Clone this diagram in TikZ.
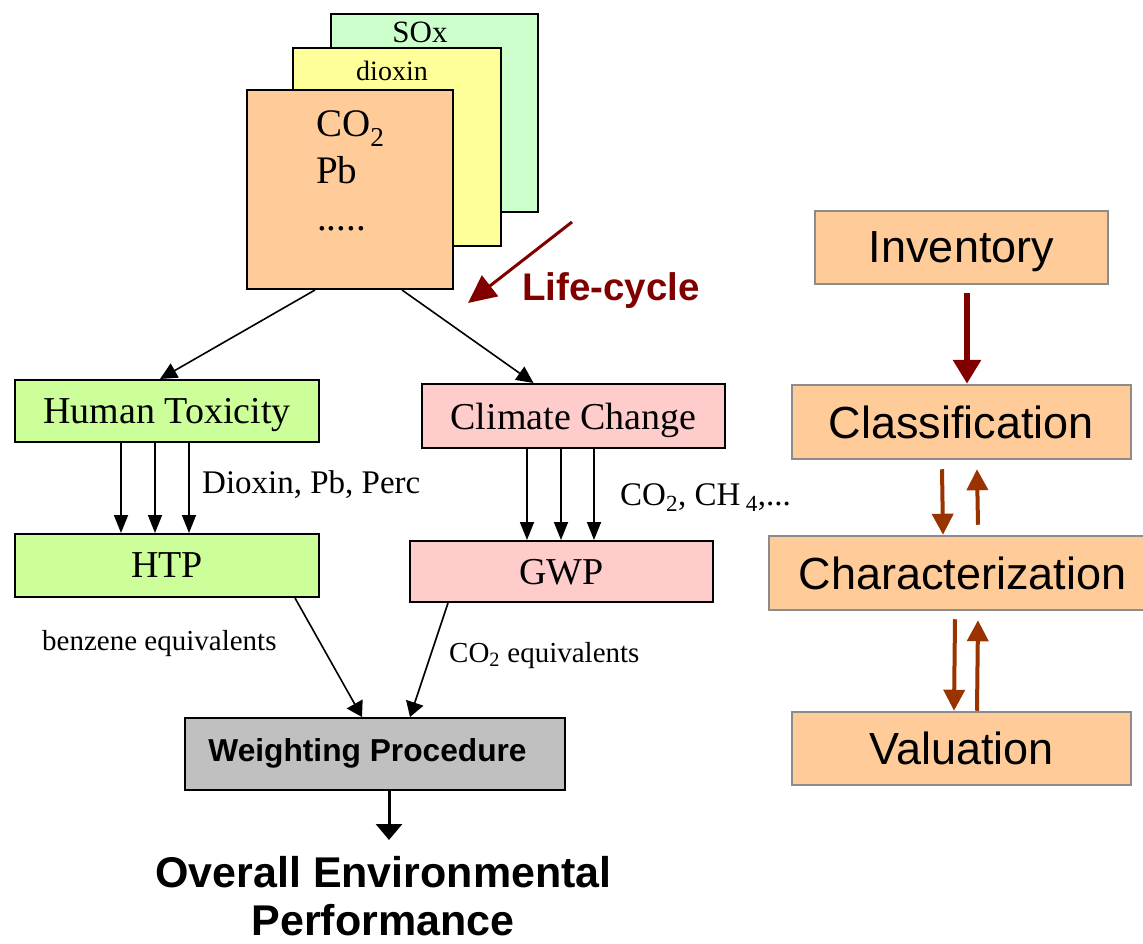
\documentclass[tikz,border=0pt]{standalone}
\usepackage{fontspec}
\setmainfont{Liberation Serif}
\setsansfont{Liberation Sans}
\usetikzlibrary{arrows.meta}
\definecolor{peach}{HTML}{FFCC99}
\definecolor{lyellow}{HTML}{FFFF99}
\definecolor{lgreen}{HTML}{CCFFCC}
\definecolor{lime}{HTML}{CCFF99}
\definecolor{lpink}{HTML}{FFCCCC}
\definecolor{wgray}{HTML}{C0C0C0}
\definecolor{dred}{HTML}{800000}
\definecolor{rbrown}{HTML}{993300}
\definecolor{rborder}{HTML}{8C8C8C}
\newcommand{\fsz}[1]{\fontsize{#1}{#1}\selectfont}
\begin{document}
\begin{tikzpicture}[x=1pt,y=-1pt,
  box/.style={draw=black, line width=2pt, inner sep=0pt, text depth=0pt},
  txt/.style={inner sep=0pt},
  rbox/.style={draw=rborder, line width=2.5pt, fill=peach, inner sep=0pt, text depth=0pt, font=\sffamily\fsz{45}},
  arr/.style={line width=1.8pt, -{Triangle[length=18pt,width=14pt]}},
  darr/.style={line width=1.6pt, -{Triangle[length=17pt,width=16pt]}},
  warr/.style={line width=1.6pt, -{Triangle[length=15pt,width=18pt]}},
  brarr/.style={rbrown, line width=4pt, -{Triangle[length=21pt,width=21pt]}},
]
\clip (0,0) rectangle (1143,944);
\fill[white] (0,0) rectangle (1143,944);

% stacked inventory sheets
\node[box, fill=lgreen, minimum width=207pt, minimum height=198pt] (sox) at (434.5,113) {};
\node[txt, anchor=base, font=\fsz{31}] (soxt) at (420,43) {SOx};
\node[box, fill=lyellow, minimum width=208pt, minimum height=198pt] (dio) at (397,147) {};
\node[txt, anchor=base, font=\fsz{28}] (diot) at (392,81) {dioxin};
\node[box, fill=peach, minimum width=206pt, minimum height=199pt] (front) at (350,189.5) {};
\node[txt, anchor=base west, font=\fsz{39}] (co2) at (316,137) {CO\textsubscript{2}};
\node[txt, anchor=base west, font=\fsz{39}] (pb) at (316,184) {Pb};
\node[txt, anchor=base west, font=\fsz{39}] (dots) at (317,231) {.....};

% life-cycle arrow
\coordinate (lcs) at (572,222);
\coordinate (lce) at (468,303);
\draw[dred, line width=3pt, -{Triangle[length=28pt,width=26pt]}] (lcs) -- (lce);
\node[txt, anchor=base west, text=dred, font=\sffamily\bfseries\fsz{38.5}] (lc) at (522,300) {Life-cycle};

% impact categories
\node[box, fill=lime, minimum width=304pt, minimum height=62pt, font=\fsz{38}] (ht) at (167,411) {Human Toxicity};
\node[box, fill=lpink, minimum width=303pt, minimum height=64pt, font=\fsz{38}] (cc) at (573.5,416) {Climate Change};
\node[box, fill=lime, minimum width=304pt, minimum height=63pt, font=\fsz{38}] (htp) at (167,565.5) {HTP};
\node[box, fill=lpink, minimum width=303pt, minimum height=61pt, font=\fsz{38}] (gwp) at (561.5,571.5) {GWP};

\draw[darr] ([xshift=-35pt]front.south) -- ([xshift=-7pt]ht.north);
\draw[darr] ([xshift=52pt]front.south) -- ([xshift=-40pt]cc.north);

\foreach \dx in {-46,-12,22}
  \draw[arr] ([xshift=\dx pt]ht.south) -- ([xshift=\dx pt]ht.south |- htp.north);
\foreach \dx in {-46.5,-12.5,20.5}
  \draw[arr] ([xshift=\dx pt]cc.south) -- ([xshift=\dx pt]cc.south |- gwp.north);

\node[txt, anchor=base west, font=\fsz{33}] (lbl1) at (202,493) {Dioxin, Pb, Perc};
\node[txt, anchor=base west, font=\fsz{33}] (lbl2) at (620,505) {CO\textsubscript{2}, CH\,\textsubscript{4},...};

% weighting
\node[box, fill=wgray, minimum width=380pt, minimum height=72pt] (wp) at (375,754) {};
\node[txt, anchor=base, font=\sffamily\bfseries\fsz{31.7}] (wpt) at (367.5,761) {Weighting Procedure};
\draw[warr] ([xshift=128pt]htp.south) -- ([xshift=-13pt]wp.north);
\draw[warr] ([xshift=-113.5pt]gwp.south) -- ([xshift=35pt]wp.north);
\node[txt, anchor=base west, font=\fsz{29}] (lbl3) at (42,650) {benzene equivalents};
\node[txt, anchor=base west, font=\fsz{29}] (lbl4) at (449,662) {CO\textsubscript{2} equivalents};

\coordinate (ovtop) at (389,840);
\draw[line width=3pt, -{Triangle[length=16pt,width=26pt]}] ([xshift=14pt]wp.south) -- (ovtop);
\node[txt, anchor=base, font=\sffamily\bfseries\fsz{43}] (ov1) at (383.5,887) {Overall Environmental};
\node[txt, anchor=base, font=\sffamily\bfseries\fsz{43}] (ov2) at (383,935) {Performance};

% right column
\node[rbox, minimum width=293pt, minimum height=73pt] (inv) at (961.5,247.5) {Inventory};
\node[rbox, minimum width=339pt, minimum height=74pt] (cls) at (961.5,422) {Classification};
\node[rbox, minimum width=387pt, minimum height=74pt] (chr) at (962.5,573) {Characterization};
\node[rbox, minimum width=339pt, minimum height=73pt] (val) at (961.5,748.5) {Valuation};

\draw[dred, line width=6pt, -{Triangle[length=24pt,width=27pt]}] ([xshift=5.5pt,yshift=-8pt]inv.south) -- ([xshift=5.5pt]cls.north);
\draw[brarr] ([xshift=-19.5pt,yshift=-9pt]cls.south) -- ([xshift=-19.5pt]chr.north);
\draw[brarr] ([xshift=15.5pt,yshift=10pt]chr.north) -- ([xshift=15.5pt,yshift=-9pt]cls.south);
\draw[brarr] ([xshift=-7.5pt,yshift=-8pt]chr.south) -- ([xshift=-7.5pt]val.north);
\draw[brarr] ([xshift=15.5pt]val.north) -- ([xshift=15.5pt,yshift=-9pt]chr.south);
\end{tikzpicture}
\end{document}
